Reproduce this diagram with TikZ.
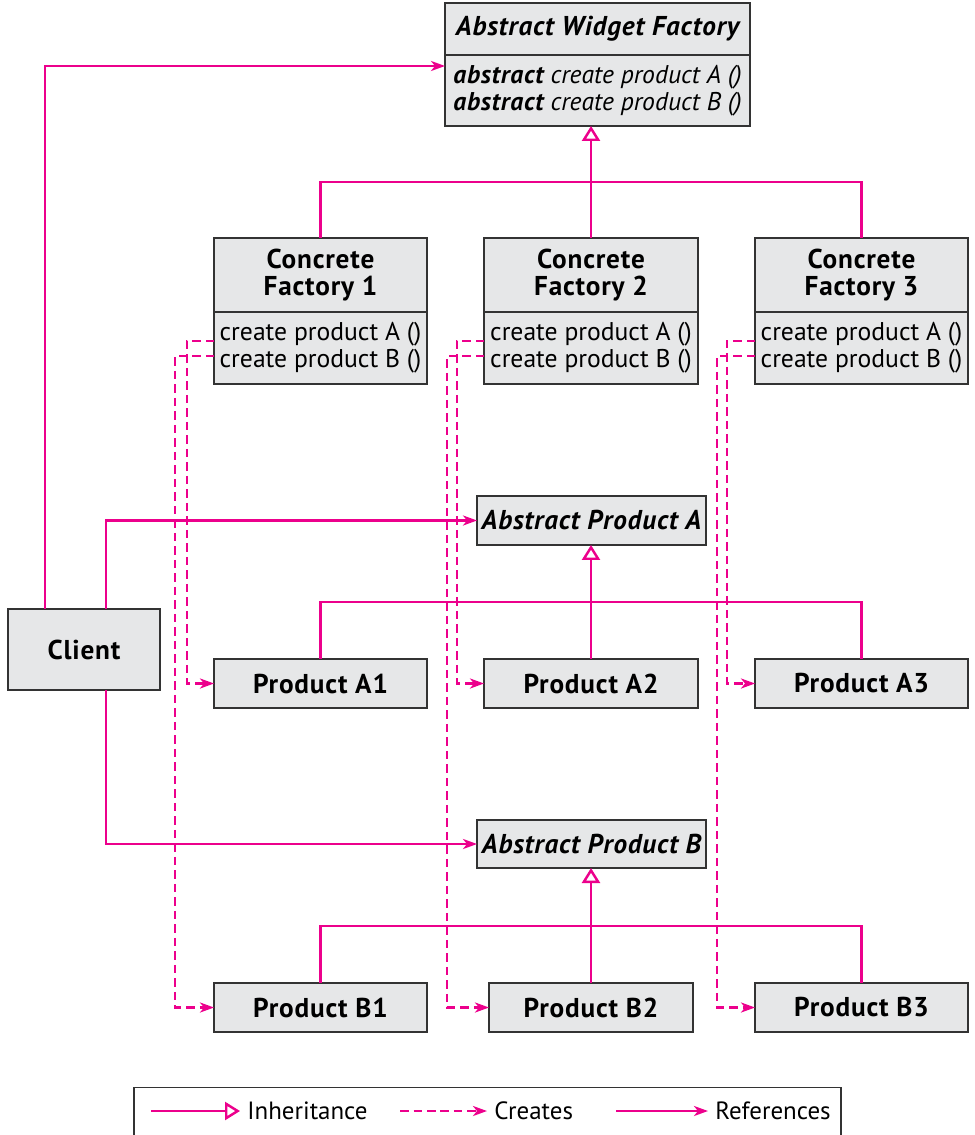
\documentclass[tikz,border=0pt]{standalone}
\usepackage{fontspec}
\setmainfont{PT Sans}[BoldFeatures={LetterSpace=3}, BoldItalicFeatures={LetterSpace=3}]
\usetikzlibrary{arrows.meta, positioning}
\definecolor{umlpink}{HTML}{EC008C}
\definecolor{boxgray}{HTML}{E6E7E8}
\definecolor{boxline}{HTML}{333333}

\begin{document}
\begin{tikzpicture}[
    x=0.02cm, y=-0.02cm,
    classbox/.style={
        rectangle, draw=boxline, line width=1pt, fill=boxgray,
        outer sep=0pt, inner sep=0pt, minimum width=#1, align=center,
        font=\fontsize{15.5}{15.3}\selectfont\bfseries
    },
    classbox/.default={4.26cm},
    opsbox/.style={
        classbox=#1, align=left,
        font=\fontsize{14.6}{15.3}\selectfont
    },
    opsbox/.default={4.26cm},
    pinkline/.style={
        line width=1.4pt, umlpink
    },
    inherit/.style={
        pinkline, -{Triangle[open, length=3mm, width=3.6mm, fill=white]}
    },
    ref/.style={
        pinkline, -{Stealth[length=2.8mm, width=2mm, inset=0.8mm]}
    },
    creates/.style={
        ref, dash pattern=on 0.17cm off 0.1cm
    },
    legtext/.style={
        anchor=west, inner sep=0pt, inner xsep=0.14cm,
        font=\fontsize{14.2}{15.3}\selectfont
    }
]
\useasboundingbox (0,0) rectangle (974,1135);

% ── Abstract factory ──
\node[classbox={6.1cm}, minimum height=1.04cm,
      font=\fontsize{15.5}{15.3}\selectfont\bfseries\itshape] (awf) at (597.5,29) {Abstract Widget Factory};
\node[opsbox={6.1cm}, minimum height=1.42cm, anchor=north,
      font=\fontsize{14.6}{15.3}\selectfont\itshape] (awfops) at (awf.south) {
    \textbf{abstract} create product A ()\\
    \textbf{abstract} create product B ()
};

% ── Concrete factories ──
\node[classbox, minimum height=1.48cm] (cf1) at (320.5,275) {Concrete\\Factory 1};
\node[opsbox, minimum height=1.44cm, anchor=north] (cfops1) at (cf1.south) {create product A ()\\create product B ()};

\node[classbox={4.28cm}, minimum height=1.48cm] (cf2) at (591,275) {Concrete\\Factory 2};
\node[opsbox={4.28cm}, minimum height=1.44cm, anchor=north] (cfops2) at (cf2.south) {create product A ()\\create product B ()};

\node[classbox, minimum height=1.48cm] (cf3) at (861.5,275) {Concrete\\Factory 3};
\node[opsbox, minimum height=1.44cm, anchor=north] (cfops3) at (cf3.south) {create product A ()\\create product B ()};

% ── Products A ──
\node[classbox={4.58cm}, minimum height=0.98cm,
      font=\fontsize{15.5}{15.3}\selectfont\bfseries\itshape] (apa) at (591.5,520.5) {Abstract Product A};
\node[classbox, minimum height=0.98cm] (pa1) at (320.5,683.5) {Product A1};
\node[classbox={4.28cm}, minimum height=0.98cm] (pa2) at (591,683.5) {Product A2};
\node[classbox, minimum height=0.98cm] (pa3) at (861.5,683.5) {Product A3};

% ── Products B ──
\node[classbox={4.58cm}, minimum height=0.96cm,
      font=\fontsize{15.5}{15.3}\selectfont\bfseries\itshape] (apb) at (591.5,844) {Abstract Product B};
\node[classbox, minimum height=0.98cm] (pb1) at (320.5,1007.5) {Product B1};
\node[classbox={4.08cm}, minimum height=0.98cm] (pb2) at (591,1007.5) {Product B2};
\node[classbox, minimum height=0.98cm] (pb3) at (861.5,1007.5) {Product B3};

% ── Client ──
\node[classbox={3.04cm}, minimum height=1.62cm] (client) at (84,649.5) {Client};

% ── Inheritance ──
\coordinate (fbar) at (591,182);
\draw[pinkline] (cf1.north) |- (fbar) -| (cf3.north);
\draw[inherit] (cf2.north) -- (cf2.north |- awfops.south);

\coordinate (abar) at (591,602);
\draw[pinkline] (pa1.north) |- (abar) -| (pa3.north);
\draw[inherit] (pa2.north) -- (pa2.north |- apa.south);

\coordinate (bbar) at (591,926);
\draw[pinkline] (pb1.north) |- (bbar) -| (pb3.north);
\draw[inherit] (pb2.north) -- (pb2.north |- apb.south);

% ── References ──
\draw[ref] ([xshift=-0.78cm]client.north) |- ([yshift=0.49cm]awfops.west);
\draw[ref] ([xshift=0.44cm]client.north) |- (apa.west);
\draw[ref] ([xshift=0.44cm]client.south) |- (apb.west);

% ── Creates ──
\draw[creates] ([yshift=0.14cm]cfops1.west) -- ++(-27,0) |- (pa1.west);
\draw[creates] ([yshift=-0.16cm]cfops1.west) -- ++(-39,0) |- (pb1.west);
\draw[creates] ([yshift=0.14cm]cfops2.west) -- ++(-27,0) |- (pa2.west);
\draw[creates] ([yshift=-0.16cm]cfops2.west) -- ++(-37,0) |- (pb2.west);
\draw[creates] ([yshift=0.14cm]cfops3.west) -- ++(-28,0) |- (pa3.west);
\draw[creates] ([yshift=-0.16cm]cfops3.west) -- ++(-38,0) |- (pb3.west);

% ── Legend ──
\node[rectangle, draw=boxline, line width=0.7pt, minimum width=14.14cm, minimum height=1.06cm] (legend) at (487.5,1114) {};
\coordinate (inhstart) at (151,1111);
\node[legtext] (inhtext) at (240,1111) {Inheritance};
\draw[inherit] (inhstart) -- (inhtext.west);
\coordinate (crestart) at (400,1111);
\node[legtext] (cretext) at (487,1111) {Creates};
\draw[creates] (crestart) -- (cretext.west);
\coordinate (refstart) at (616,1111);
\node[legtext] (reftext) at (708,1111) {References};
\draw[ref] (refstart) -- (reftext.west);

\end{tikzpicture}
\end{document}
